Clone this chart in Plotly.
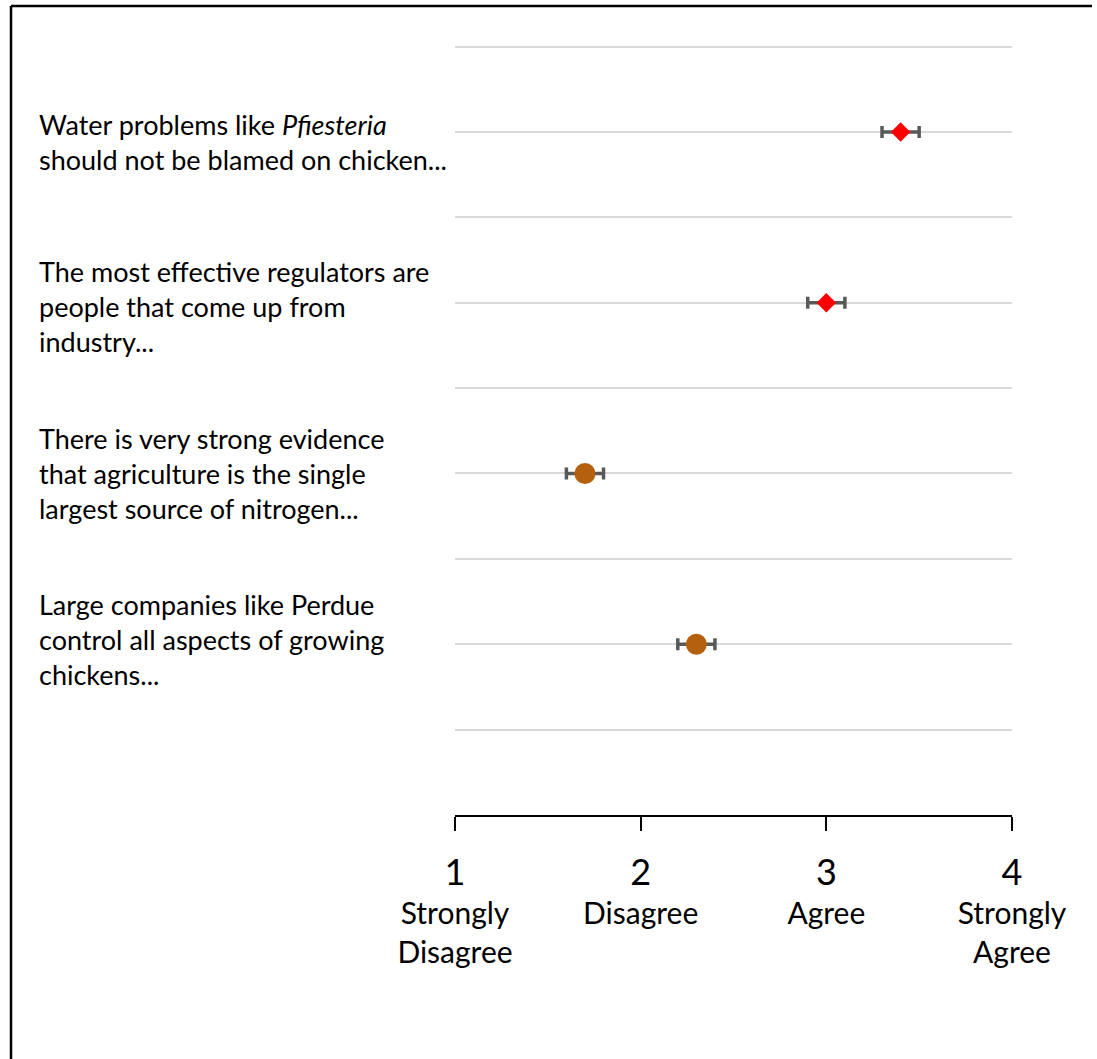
import plotly.graph_objects as go

STATEMENTS = [
    "Water problems like <i>Pfiesteria</i><br>should not be blamed on chicken...",
    "The most effective regulators are<br>people that come up from<br>industry...",
    "There is very strong evidence<br>that agriculture is the single<br>largest source of nitrogen...",
    "Large companies like Perdue<br>control all aspects of growing<br>chickens...",
]
MEANS = [3.4, 3.0, 1.7, 2.3]
ERRORS = [0.1, 0.1, 0.1, 0.1]

SCALE_VALUES = [1, 2, 3, 4]
SCALE_NAMES = ["Strongly<br>Disagree", "Disagree", "Agree", "Strongly<br>Agree"]

FONT = "Lato, 'Open Sans', sans-serif"
W, H = 1097, 1059
M = dict(l=455, r=85, t=38, b=244)

n = len(MEANS)
rows = [2 * (n - i) for i in range(n)]  # one gridline between each statement

fig = go.Figure()
for agree, symbol, color, size in [(True, 'diamond', '#ff0000', 15), (False, 'circle', '#b4600e', 21)]:
    idx = [i for i in range(n) if (MEANS[i] > 2.5) == agree]
    fig.add_trace(go.Scatter(
        x=[MEANS[i] for i in idx],
        y=[rows[i] for i in idx],
        mode='markers',
        marker=dict(symbol=symbol, color=color, size=size, line=dict(width=0)),
        error_x=dict(type='data', array=[ERRORS[i] for i in idx],
                     color='#595959', thickness=3.5, width=6),
        showlegend=False,
    ))

pw = W - M['l'] - M['r']
ph = H - M['t'] - M['b']
label_shift = [-10, -4, 0, 5]  # the text boxes in the original aren't quite centred on their rows
for s, yv, dy in zip(STATEMENTS, rows, label_shift):
    fig.add_annotation(
        text=s, xref='paper', yref='y', x=(37 - M['l']) / pw, y=yv, yshift=dy,
        xanchor='left', yanchor='middle', align='left', showarrow=False,
        font=dict(family=FONT, size=27, color='#000000'),
    )

# outer frame: only the top and left edges fall inside the picture
fx0 = (11 - M['l']) / pw
fx1 = (W - 5 - M['l']) / pw
fy0 = -M['b'] / ph
fy1 = (H - M['b'] - 6) / ph
frame = dict(color='#000000', width=2.5)
fig.add_shape(type='line', xref='paper', yref='paper', x0=fx0, x1=fx1, y0=fy1, y1=fy1, line=frame, layer='above')
fig.add_shape(type='line', xref='paper', yref='paper', x0=fx0, x1=fx0, y0=fy0, y1=fy1, line=frame, layer='above')

ticktext = [f"<span style='font-size:36px'>{v}</span><br>{t}" for v, t in zip(SCALE_VALUES, SCALE_NAMES)]

fig.update_layout(
    width=W, height=H,
    margin=M,
    paper_bgcolor='white',
    plot_bgcolor='white',
    font=dict(family=FONT, size=30, color='#000000'),
    xaxis=dict(range=[1, 4], tickvals=SCALE_VALUES, ticktext=ticktext,
               showgrid=False, zeroline=False, showline=True, linecolor='#000000',
               linewidth=2, ticks='outside', ticklen=14, tickwidth=1.5,
               tickcolor='#000000', ticklabelstandoff=18),
    yaxis=dict(range=[0, 9.1], dtick=1, tick0=0, showgrid=True, gridcolor='#d9d9d9',
               gridwidth=2, zeroline=False, showticklabels=False, showline=False),
)

fig.write_html("out.html", config={'displayModeBar': False},
               post_script="document.body.style.margin = '0'; "
                           "document.documentElement.style.overflow = 'hidden';")
